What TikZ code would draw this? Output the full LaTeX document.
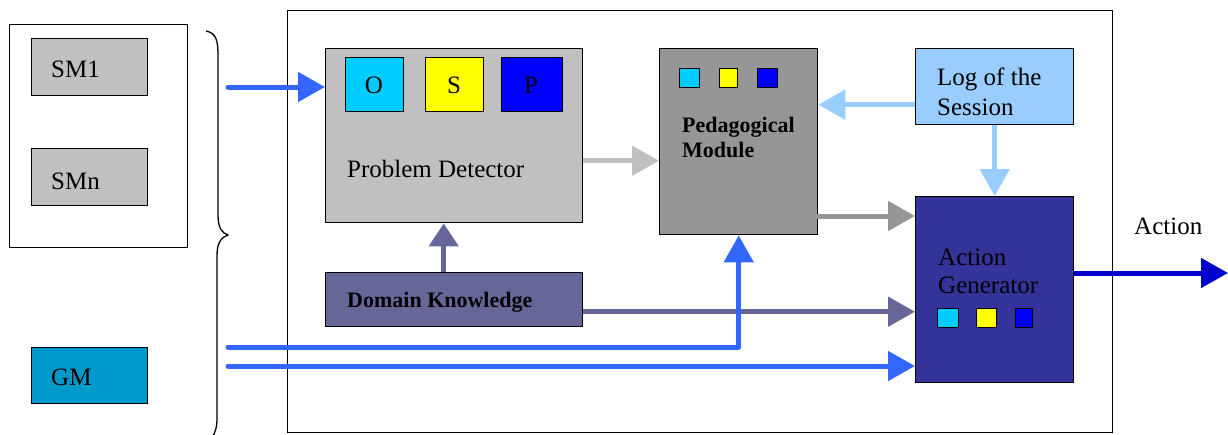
\documentclass[tikz,border=0pt]{standalone}
\usepackage{fontspec}
\setmainfont{Liberation Serif}
\usetikzlibrary{arrows.meta}
\definecolor{gA}{HTML}{C0C0C0}
\definecolor{gB}{HTML}{969696}
\definecolor{cO}{HTML}{00CCFF}
\definecolor{cS}{HTML}{FFFF00}
\definecolor{cP}{HTML}{0000FF}
\definecolor{cGM}{HTML}{0099CC}
\definecolor{cLog}{HTML}{99CCFF}
\definecolor{cAG}{HTML}{333399}
\definecolor{cDK}{HTML}{666699}
\definecolor{cIn}{HTML}{3366FF}
\definecolor{cAct}{HTML}{0000CC}
\tikzset{
  box/.style={draw=black, line width=1.4pt, inner sep=0pt, anchor=north west},
  lbl/.style={anchor=base west, inner sep=0pt, font=\fontsize{25}{30}\selectfont},
  blbl/.style={anchor=base west, inner sep=0pt, font=\fontsize{22}{26}\selectfont\bfseries},
  conn/.style={line width=5pt, -{Triangle[length=27pt,width=29pt]}},
}
\begin{document}
\begin{tikzpicture}[x=1pt,y=-1pt]
\useasboundingbox (0,0) rectangle (1228,434);
% left group
\node[box, fill=white, minimum width=178pt, minimum height=223pt] (smgroup) at (9,24) {};
\node[box, fill=gA, minimum width=116pt, minimum height=57pt] (sm1) at (31,38) {};
\node[lbl] (sm1t) at (51,77) {SM1};
\node[box, fill=gA, minimum width=116pt, minimum height=57pt] (smn) at (31,148) {};
\node[lbl] (smnt) at (51,189) {SMn};
\node[box, fill=cGM, minimum width=116pt, minimum height=56pt] (gm) at (31,347) {};
\node[lbl] (gmt) at (51,385) {GM};
% brace
\draw[line width=1.3pt] (206,31) .. controls (216,33) and (218,40) .. (218,55)
  -- (218,215) .. controls (218,228) and (222,233) .. (228,235)
  .. controls (222,237) and (217,242) .. (217,255)
  -- (217,418) .. controls (217,428) and (215,432) .. (213,436);
% main box
\node[box, fill=white, line width=1.2pt, minimum width=825pt, minimum height=422pt] (main) at (287,10) {};
% problem detector
\node[box, fill=gA, minimum width=257pt, minimum height=174pt] (pd) at (325,48) {};
\node[box, fill=cO, minimum width=58pt, minimum height=54pt] (o) at (345,57) {};
\node[box, fill=cS, minimum width=58pt, minimum height=54pt] (s) at (425,57) {};
\node[box, fill=cP, minimum width=61pt, minimum height=54pt] (p) at (501,57) {};
\node[lbl, anchor=base] (ot) at (374,93) {O};
\node[lbl, anchor=base] (st) at (454,93) {S};
\node[lbl, anchor=base] (pt) at (531,93) {P};
\node[lbl] (pdt) at (347,177) {Problem Detector};
% pedagogical module
\node[box, fill=gB, minimum width=158pt, minimum height=186pt] (pm) at (659,48) {};
\node[box, fill=cO, line width=1.2pt, minimum width=20pt, minimum height=19pt] (pm1) at (679,68) {};
\node[box, fill=cS, line width=1.2pt, minimum width=18pt, minimum height=19pt] (pm2) at (719,68) {};
\node[box, fill=cP, line width=1.2pt, minimum width=20pt, minimum height=19pt] (pm3) at (757,68) {};
\node[blbl] (pmt1) at (682,132) {Pedagogical};
\node[blbl] (pmt2) at (682,157) {Module};
% log of the session
\node[box, fill=cLog, minimum width=158pt, minimum height=76pt] (log) at (915,48) {};
\node[lbl] (logt1) at (937,85) {Log of the};
\node[lbl] (logt2) at (937,115) {Session};
% action generator
\node[box, fill=cAG, minimum width=158pt, minimum height=186pt] (ag) at (915,196) {};
\node[lbl] (agt1) at (938,265) {Action};
\node[lbl] (agt2) at (938,293) {Generator};
\node[box, fill=cO, line width=1.2pt, minimum width=21pt, minimum height=19pt] (ag1) at (937,308) {};
\node[box, fill=cS, line width=1.2pt, minimum width=20pt, minimum height=19pt] (ag2) at (976,308) {};
\node[box, fill=cP, line width=1.2pt, minimum width=17pt, minimum height=19pt] (ag3) at (1015,308) {};
% domain knowledge
\node[box, fill=cDK, minimum width=257pt, minimum height=54pt] (dk) at (325,272) {};
\node[blbl] (dkt) at (347,307) {Domain Knowledge};
% action label
\node[lbl] (actt) at (1134,234) {Action};
% coordinates
\coordinate (in1) at (228,87);
\coordinate (in2) at (228,347);
\coordinate (in3) at (228,366);
\coordinate (pmag) at (817,216);
\coordinate (actend) at (1228,273);
% connectors
\draw[conn, cIn, line cap=round] (in1) -- (in1 -| pd.west);
\draw[conn, gA] ([yshift=-25pt]pd.east) -- ([yshift=-25pt]pd.east -| pm.west);
\draw[conn, cLog] ([yshift=-18pt]log.west) -- ([yshift=-18pt]log.west -| pm.east);
\draw[conn, cLog] (log.south) -- (ag.north);
\draw[conn, gB] (pmag) -- (pmag -| ag.west);
\draw[conn, cDK, -{Triangle[length=23pt,width=29pt]}] ([xshift=-10.5pt]dk.north) -- ([xshift=-10.5pt]dk.north |- pd.south);
\draw[conn, cDK] ([yshift=-12pt]dk.east) -- ([yshift=-12pt]dk.east -| ag.west);
\draw[conn, cIn, line cap=round, line join=round] (in2) -| (pm.south);
\draw[conn, cIn, line cap=round] (in3) -- (in3 -| ag.west);
\draw[conn, cAct] (ag.east |- actend) -- (actend);
\end{tikzpicture}
\end{document}
